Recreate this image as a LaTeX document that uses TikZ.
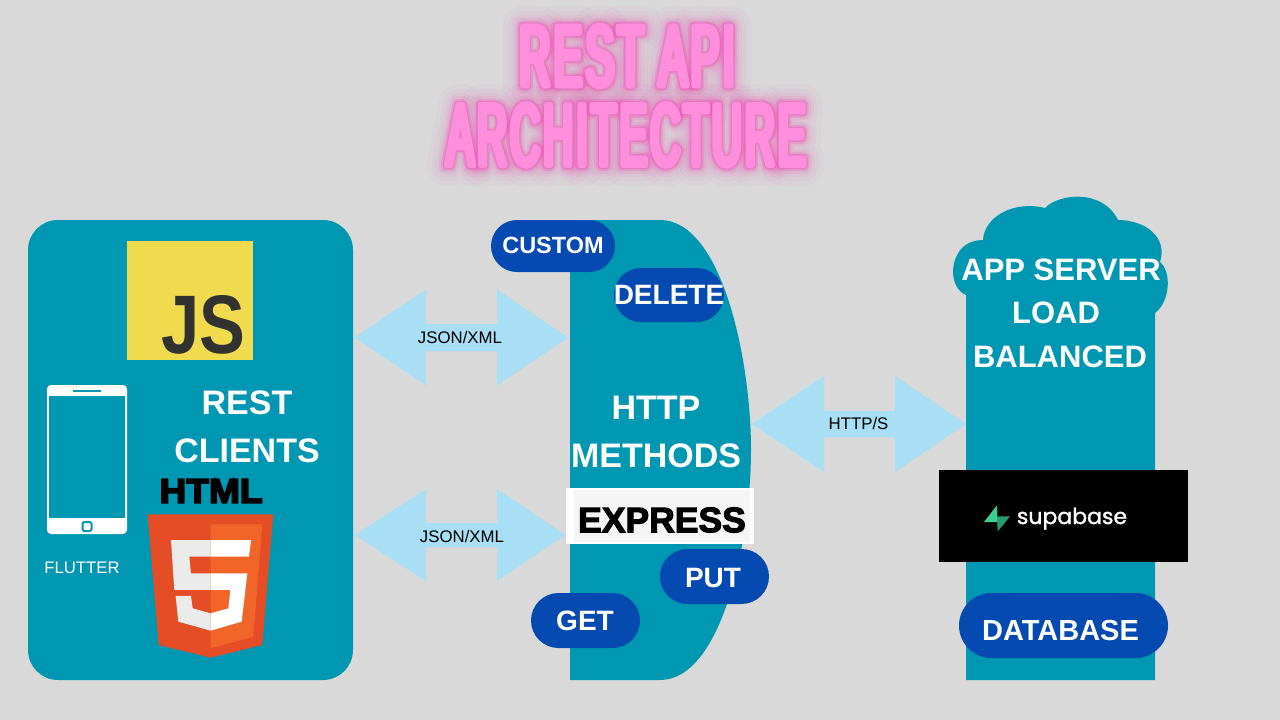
\documentclass[tikz,border=0pt]{standalone}
\usepackage{fontspec}
\setmainfont{Liberation Sans}
\newfontfamily\heavy[FakeBold=3]{Liberation Sans Bold}
\newfontfamily\heavier[FakeBold=5]{Liberation Sans Bold}
\newfontfamily\supafont[FakeBold=1.5]{Poppins}
\newfontfamily\titlefont[FakeStretch=0.5,LetterSpace=4,FakeBold=6.5]{Liberation Sans}
\newfontfamily\glowA[FakeStretch=0.5,LetterSpace=4,FakeBold=10]{Liberation Sans}
\newfontfamily\glowB[FakeStretch=0.5,LetterSpace=4,FakeBold=14]{Liberation Sans}
\newfontfamily\glowC[FakeStretch=0.5,LetterSpace=4,FakeBold=20]{Liberation Sans}
\newfontfamily\glowD[FakeStretch=0.5,LetterSpace=4,FakeBold=27]{Liberation Sans}
\newfontfamily\glowE[FakeStretch=0.5,LetterSpace=4,FakeBold=36]{Liberation Sans}
\newfontfamily\glowF[FakeStretch=0.5,LetterSpace=4,FakeBold=48]{Liberation Sans}
\definecolor{bgc}{HTML}{D9D9D9}
\definecolor{teal}{HTML}{0097B2}
\definecolor{pillc}{HTML}{044AB0}
\definecolor{arrowc}{HTML}{A8DFF5}
\definecolor{pinkt}{HTML}{FF8FDC}
\definecolor{pinkg}{HTML}{F23DB3}
\definecolor{jsy}{HTML}{F0DB4F}
\definecolor{jsd}{HTML}{323330}
\definecolor{hd}{HTML}{E44D26}
\definecolor{hl}{HTML}{F16529}
\definecolor{hg}{HTML}{EBEBEB}
\definecolor{supaA}{HTML}{3ECF8E}
\definecolor{supaB}{HTML}{2A9D6E}
\tikzset{
  panel/.style={fill=teal,draw=none},
  pillshape/.style={fill=pillc,draw=none,rounded corners=27.5pt},
  label/.style={inner sep=0pt,font=\fontsize{34}{34}\selectfont\bfseries,text=white},
  pilltext/.style={inner sep=0pt,font=\fontsize{28}{28}\selectfont\bfseries,text=white},
  srvtext/.style={inner sep=0pt,font=\fontsize{31}{31}\selectfont\bfseries,text=white},
  small/.style={inner sep=0pt,font=\fontsize{16.8}{17}\selectfont,text=black},
  ttl/.style={inner sep=0pt,text=pinkt},
  glowtext/.style={inner sep=0pt,text=pinkg,opacity=#1},
  blockarrow/.style={fill=arrowc,draw=none}
}
\newcommand{\fitbox}[3]{\resizebox{#1pt}{#2pt}{#3}}
\newcommand{\dblarrow}[7]{%
  \fill[blockarrow] (#1,#5) -- (#2,#5-#6) -- (#2,#5-#7) -- (#3,#5-#7) -- (#3,#5-#6)
    -- (#4,#5) -- (#3,#5+#6) -- (#3,#5+#7) -- (#2,#5+#7) -- (#2,#5+#6) -- cycle;}
\newcommand{\ttlone}[1]{\fitbox{215}{60}{\fontsize{83}{83}\selectfont#1{}REST API}}
\newcommand{\ttltwo}[1]{\fitbox{359}{61}{\fontsize{83}{83}\selectfont#1{}ARCHITECTURE}}
\begin{document}
\begin{tikzpicture}[x=1pt,y=-1pt]
\useasboundingbox (0,0) rectangle (1280,720);
\fill[bgc] (0,0) rectangle (1280,720);
% title glow
\begin{scope}[line join=round,line cap=round]
\node[glowtext=0.035] (ga6) at (627,56) {\ttlone{\glowF}};
\node[glowtext=0.035] (gb6) at (626,135) {\ttltwo{\glowF}};
\node[glowtext=0.04] (ga5) at (627,56) {\ttlone{\glowE}};
\node[glowtext=0.04] (gb5) at (626,135) {\ttltwo{\glowE}};
\node[glowtext=0.06] (ga4) at (627,56) {\ttlone{\glowD}};
\node[glowtext=0.06] (gb4) at (626,135) {\ttltwo{\glowD}};
\node[glowtext=0.10] (ga3) at (627,56) {\ttlone{\glowC}};
\node[glowtext=0.10] (gb3) at (626,135) {\ttltwo{\glowC}};
\node[glowtext=0.2] (ga2) at (627,56) {\ttlone{\glowB}};
\node[glowtext=0.2] (gb2) at (626,135) {\ttltwo{\glowB}};
\node[glowtext=0.3] (ga1) at (627,56) {\ttlone{\glowA}};
\node[glowtext=0.3] (gb1) at (626,135) {\ttltwo{\glowA}};
\node[ttl] (title1) at (627,56) {\ttlone{\titlefont}};
\node[ttl] (title2) at (626,135) {\ttltwo{\titlefont}};
\end{scope}
% left panel
\fill[panel,rounded corners=30pt] (28,220) rectangle (353,680);
\fill[jsy] (127,241) rectangle (253,360);
\node[inner sep=0pt,text=jsd] (js) at (203,325) {\fitbox{84}{58}{\fontsize{80}{80}\selectfont\bfseries JS}};
% phone
\fill[white,rounded corners=4pt] (47,385) rectangle (127,534);
\fill[teal] (49.3,395.7) rectangle (125.3,518.3);
\draw[teal,line width=2pt] (73,390.5) -- (101,390.5);
\draw[teal,line width=2pt,rounded corners=2pt] (82.5,522) rectangle (91.5,531);
\node[inner sep=0pt,text=white,font=\fontsize{16.7}{17}\selectfont] (flutter) at (82,567.5) {FLUTTER};
\node[label] (rest) at (247,403) {REST};
\node[label] (clients) at (247,451) {CLIENTS};
\node[inner sep=0pt,text=black] (html) at (211,491) {\fitbox{103}{23.5}{\fontsize{33}{33}\selectfont\heavier HTML}};
% html5 shield
\begin{scope}[shift={(145,510)},x=0.3333pt,y=-0.3333pt]
\fill[hd] (8,13) -- (385,13) -- (352,405) -- (197,443) -- (41,405) -- cycle;
\fill[hl] (197,43) -- (352,43) -- (325,380) -- (197,415) -- cycle;
\fill[hg] (197,90) -- (78,90) -- (88,240) -- (197,240) -- (197,190) -- (138,190) -- (133,140) -- (197,140) -- cycle;
\fill[hg] (92,258) -- (138,258) -- (143,295) -- (197,310) -- (197,362) -- (100,335) -- cycle;
\fill[white] (197,90) -- (318,90) -- (312,140) -- (197,140) -- cycle;
\fill[white] (197,190) -- (307,190) -- (290,335) -- (197,362) -- (197,310) -- (250,295) -- (256,240) -- (197,240) -- cycle;
\end{scope}
% arrows
\dblarrow{355}{426}{497}{568}{337.5}{48}{13.5}
\dblarrow{355}{426}{497}{566}{535}{46}{12}
\dblarrow{752}{824}{895}{966}{424}{48}{13}
\node[small] (j1) at (460,337) {JSON/XML};
\node[small] (j2) at (462,536) {JSON/XML};
\node[small] (hs) at (858.5,423) {HTTP/S};
% middle
\fill[panel] (570,220) -- (660,220) .. controls (722,220) and (751,360) .. (751,450)
  .. controls (751,540) and (722,680) .. (660,680) -- (570,680) -- cycle;
\fill[pillshape,rounded corners=26pt] (491,220) rectangle (615,272);
\fill[pillshape,rounded corners=27pt] (614,268) rectangle (724,322);
\fill[pillshape] (660,549) rectangle (769,604);
\fill[pillshape] (531,593) rectangle (640,648);
\node[inner sep=0pt,text=white,font=\fontsize{23.5}{24}\selectfont\bfseries] (custom) at (553,245.5) {CUSTOM};
\node[pilltext] (delete) at (669,295) {DELETE};
\node[pilltext] (put) at (713,577.5) {PUT};
\node[pilltext] (get) at (585,620.5) {GET};
\node[label] (http) at (656,408) {HTTP};
\node[label] (methods) at (656,456) {METHODS};
\fill[white] (566,488) rectangle (754,544);
\fill[white!96!black] (574,490) rectangle (750,542);
\node[inner sep=0pt,text=black,font=\fontsize{35.5}{36}\selectfont\heavy] (express) at (662,520) {EXPRESS};
% right
\fill[panel] (966,680) -- (966,295)
  .. controls (950,288) and (949,262) .. (962,248)
  .. controls (968,242) and (976,240) .. (983,240)
  .. controls (984,218) and (1012,200) .. (1045,208)
  .. controls (1058,194) and (1102,188) .. (1118,220)
  .. controls (1146,220) and (1168,238) .. (1160,262)
  .. controls (1172,272) and (1170,302) .. (1155,313)
  -- (1155,680) -- cycle;
\node[srvtext] (app) at (1061,270) {APP SERVER};
\node[srvtext] (load) at (1056,313) {LOAD};
\node[srvtext] (bal) at (1060,357) {BALANCED};
\fill[black] (939,470) rectangle (1188,562);
\begin{scope}[shift={(975,498)},x=0.3333pt,y=-0.3333pt]
\fill[supaA] (66,22) -- (27,72) -- (68,72) -- cycle;
\fill[supaB] (68,100) -- (105,55) -- (66,55) -- cycle;
\end{scope}
\node[anchor=base,inner sep=0pt,text=white,font=\fontsize{22}{22}\selectfont\supafont] (supa) at (1072,524) {supabase};
\fill[pillshape,rounded corners=32.5pt] (959,593) rectangle (1168,658);
\node[inner sep=0pt,text=white,font=\fontsize{29}{29}\selectfont\bfseries] (db) at (1060.5,631) {DATABASE};
\end{tikzpicture}
\end{document}
